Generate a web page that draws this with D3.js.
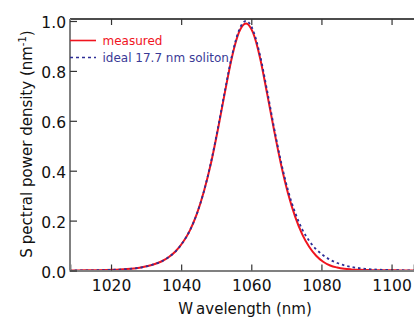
<!DOCTYPE html>
<html>
<head>
<meta charset="utf-8">
<script src="https://cdn.jsdelivr.net/npm/d3@7"></script>
<style>
  html, body { margin: 0; padding: 0; background: #fff; }
  svg { display: block; font-family: "DejaVu Sans", sans-serif; }
</style>
</head>
<body>
<svg id="chart" width="414" height="323"></svg>
<script>
// ---- data ----
const wavelength = [1006.5,1008.5,1010.5,1012.5,1014.5,1016.5,1018.5,1020.5,1022.5,1024.5,1026.5,1028.5,1030.5,1032.5,1034.5,1036.5,1038.5,1040.5,1042.5,1044.5,1046.5,1048.5,1050.5,1052.5,1054.5,1056.5,1058.5,1060.5,1062.5,1064.5,1066.5,1068.5,1070.5,1072.5,1074.5,1076.5,1078.5,1080.5,1082.5,1084.5,1086.5,1088.5,1090.5,1092.5,1094.5,1096.5,1098.5,1100.5,1102.5,1104.5,1106.5];
const measured = [0.0002,0.0003,0.0004,0.0006,0.0008,0.0012,0.0018,0.0027,0.0039,0.0057,0.0083,0.012,0.018,0.026,0.037,0.054,0.078,0.113,0.161,0.228,0.318,0.43,0.567,0.716,0.856,0.955,0.99,0.953,0.852,0.71,0.562,0.424,0.308,0.216,0.146,0.095,0.059,0.035,0.020,0.012,0.007,0.0045,0.003,0.002,0.0015,0.001,0.0008,0.0006,0.0005,0.0004,0.0003];
const idealSoliton = [0.0002,0.0003,0.0004,0.0006,0.0008,0.0012,0.0018,0.0027,0.0039,0.0057,0.0083,0.012,0.018,0.026,0.037,0.054,0.078,0.113,0.161,0.228,0.318,0.434,0.572,0.722,0.862,0.963,1.0,0.963,0.862,0.722,0.572,0.434,0.320,0.232,0.166,0.119,0.085,0.061,0.043,0.030,0.021,0.0145,0.010,0.0068,0.0047,0.0032,0.0022,0.0015,0.001,0.0007,0.0005];
const xTicks = [1020, 1040, 1060, 1080, 1100];
const yTicks = [0.0, 0.2, 0.4, 0.6, 0.8, 1.0];
const seriesNames = ["measured", "ideal 17.7 nm soliton"];

// ---- layout ----
const svg = d3.select("#chart");
const L = 70, R = 414, T = 19, B = 270.5;
const x = d3.scaleLinear().domain([1008.3, 1106.4]).range([L, R]);
const y = d3.scaleLinear().domain([0, 1]).range([B, 21]);

svg.append("defs").append("clipPath").attr("id", "clip")
  .append("rect").attr("x", L).attr("y", T).attr("width", R - L).attr("height", B - T + 3);

// curves
const rows = wavelength.map((w, i) => ({w, m: measured[i], s: idealSoliton[i]}));
const lineM = d3.line().x(d => x(d.w)).y(d => y(d.m)).curve(d3.curveMonotoneX);
const lineS = d3.line().x(d => x(d.w)).y(d => y(d.s)).curve(d3.curveMonotoneX);

const g = svg.append("g").attr("clip-path", "url(#clip)");

// top frame
svg.append("line").attr("x1", L).attr("x2", R).attr("y1", T).attr("y2", T)
  .attr("stroke", "#111").attr("stroke-width", 1.5);

// bottom axis
const xAxis = d3.axisBottom(x).tickValues(xTicks).tickSize(-6).tickPadding(9).tickFormat(d3.format("d"));
const gx = svg.append("g").attr("transform", `translate(0,${B})`).call(xAxis);
gx.select(".domain").attr("stroke", "#808080").attr("stroke-width", 2);
gx.selectAll(".tick line").attr("stroke", "#333").attr("stroke-width", 1.2);
gx.selectAll(".tick text").attr("font-size", 15.5).attr("fill", "#111")
  .attr("font-family", "DejaVu Sans, sans-serif");

// top ticks
const xAxisTop = d3.axisTop(x).tickValues(xTicks).tickSize(-6).tickFormat("");
const gxt = svg.append("g").attr("transform", `translate(0,${T})`).call(xAxisTop);
gxt.select(".domain").remove();
gxt.selectAll(".tick line").attr("stroke", "#333").attr("stroke-width", 1.2);

// left axis
const yAxis = d3.axisLeft(y).tickValues(yTicks).tickSize(-7).tickPadding(4).tickFormat(d3.format(".1f"));
const gy = svg.append("g").attr("transform", `translate(${L},0)`).call(yAxis);
gy.select(".domain").attr("stroke", "#808080").attr("stroke-width", 2)
  .attr("d", `M0,${B}V${T}`);
gy.selectAll(".tick line").attr("stroke", "#333").attr("stroke-width", 1.2);
gy.selectAll(".tick text").attr("font-size", 15.5).attr("fill", "#111")
  .attr("font-family", "DejaVu Sans, sans-serif").attr("dy", "0.42em");

g.append("path").datum(rows).attr("d", lineM)
  .attr("fill", "none").attr("stroke", "#f0141e").attr("stroke-width", 2);
g.append("path").datum(rows).attr("d", lineS)
  .attr("fill", "none").attr("stroke", "#2e2e96").attr("stroke-width", 1.8)
  .attr("stroke-dasharray", "2.5,3");

// legend
const legY = [40.5, 57.5];
svg.append("line").attr("x1", L).attr("x2", 96).attr("y1", legY[0]).attr("y2", legY[0])
  .attr("stroke", "#f0141e").attr("stroke-width", 1.6);
svg.append("text").attr("x", 102.5).attr("y", legY[0] + 4.5).attr("font-size", 12)
  .attr("fill", "#f0141e").text(seriesNames[0]);
svg.append("line").attr("x1", L).attr("x2", 96).attr("y1", legY[1]).attr("y2", legY[1])
  .attr("stroke", "#2e2e96").attr("stroke-width", 1.4).attr("stroke-dasharray", "3,3");
svg.append("text").attr("x", 102.5).attr("y", legY[1] + 4.5).attr("font-size", 12)
  .attr("fill", "#3a3a96").text(seriesNames[1]);

// axis titles
const xt = svg.append("text").attr("x", 245).attr("y", 314).attr("text-anchor", "middle")
  .attr("font-size", 15).attr("fill", "#111");
xt.append("tspan").text("W");
xt.append("tspan").attr("dx", 4).text("avelength (nm)");

const yt = svg.append("text").attr("transform", "translate(32,144) rotate(-90)")
  .attr("text-anchor", "middle").attr("font-size", 15).attr("fill", "#111");
yt.append("tspan").text("S");
yt.append("tspan").attr("dx", 4).text("pectral power density (nm");
yt.append("tspan").attr("dy", -6).attr("font-size", 10).text("-1");
yt.append("tspan").attr("dy", 6).text(")");
</script>
</body>
</html>
